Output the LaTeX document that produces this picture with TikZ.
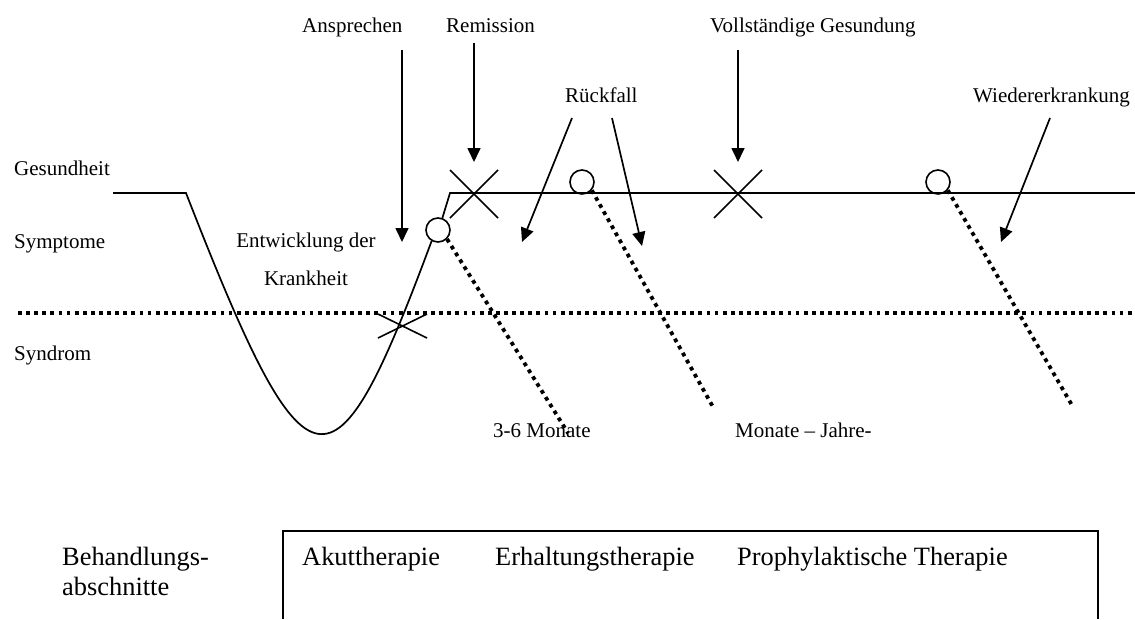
\documentclass[tikz,border=0pt]{standalone}
\usepackage{fontspec}
\setmainfont{Liberation Serif}
\usetikzlibrary{arrows.meta}
\begin{document}
\begin{tikzpicture}[x=1pt,y=-1pt,
  lbl/.style={anchor=base west,inner sep=0pt,font=\fontsize{21}{25}\selectfont},
  biglbl/.style={anchor=base west,inner sep=0pt,font=\fontsize{26.4}{30}\selectfont},
  solidline/.style={line width=1.7pt},
  dotline/.style={line width=3.8pt,dash pattern=on 3.8pt off 4.3pt},
  pointer/.style={line width=1.7pt,-{Triangle[length=14pt,width=13pt]}},
  ring/.style={circle,draw,line width=1.6pt,minimum size=24pt,inner sep=0pt,fill=white},
  crossmark/.style={line width=1.6pt}]
\useasboundingbox (0,0) rectangle (1135,619);

% level labels
\node[lbl] (gesund) at (14,175) {Gesundheit};
\node[lbl] (sympt) at (14,248) {Symptome};
\node[lbl] (syndr) at (14,360) {Syndrom};

% threshold between symptoms and syndrome
\coordinate (thrL) at (18,313);
\coordinate (thrR) at (1135,313);
\draw[dotline] (thrL) -- (thrR);

% course of the illness
\node[ring] (r1) at (438,230) {};
\node[ring] (r2) at (582,182) {};
\node[ring] (r3) at (938,182) {};
\coordinate (startL) at (113,193);
\coordinate (drop) at (186,193);
\coordinate (rise) at (450,193);
\coordinate (endR) at (1135,193);
\draw[solidline] (startL) -- (drop) .. controls (308,506) and (333,506) .. (r1.240);
\draw[solidline] (r1.70) -- (rise) -- (endR);

% dotted relapse lines
\coordinate (d1) at (568,433);
\coordinate (d2) at (713,407);
\coordinate (d3) at (1073,407);
\draw[dotline] (r1.-45) -- (d1);
\draw[dotline] (r2.-40) -- (d2);
\draw[dotline] (r3.-40) -- (d3);

% crosses
\draw[crossmark] (378,314) -- (427,338) (378,338) -- (427,314);
\draw[crossmark] (450,170) -- (498,218) (450,218) -- (498,170);
\draw[crossmark] (714,170) -- (762,218) (714,218) -- (762,170);

% event labels and their arrows
\node[lbl] (anspr) at (302,32) {Ansprechen};
\node[lbl] (remis) at (446,32) {Remission};
\node[lbl] (vollst) at (710,32) {Vollständige Gesundung};
\node[lbl] (rueck) at (565,102) {Rückfall};
\node[lbl] (wieder) at (973,102) {Wiedererkrankung};
\node[lbl,anchor=base] (entw1) at (306,247) {Entwicklung der};
\node[lbl,anchor=base] (entw2) at (306,285) {Krankheit};

\coordinate (a1s) at (402,50);   \coordinate (a1e) at (402,242);
\coordinate (a2s) at (474,43);   \coordinate (a2e) at (474,162);
\coordinate (a3s) at (738,50);   \coordinate (a3e) at (738,162);
\coordinate (a4s) at (572,118);  \coordinate (a4e) at (522,242);
\coordinate (a5s) at (612,118);  \coordinate (a5e) at (642,246);
\coordinate (a6s) at (1050,118); \coordinate (a6e) at (1001,242);
\draw[pointer] (a1s) -- (a1e);
\draw[pointer] (a2s) -- (a2e);
\draw[pointer] (a3s) -- (a3e);
\draw[pointer] (a4s) -- (a4e);
\draw[pointer] (a5s) -- (a5e);
\draw[pointer] (a6s) -- (a6e);

% durations
\node[lbl] (dur1) at (493,437) {3-6 Monate};
\node[lbl] (dur2) at (735,437) {Monate – Jahre-};

% treatment phases
\node[biglbl] (phase1) at (62,565) {Behandlungs-};
\node[biglbl] (phase2) at (62,595) {abschnitte};
\coordinate (bxBL) at (283,619);
\coordinate (bxTL) at (283,531);
\coordinate (bxTR) at (1098,531);
\coordinate (bxBR) at (1098,619);
\draw[solidline] (bxBL) -- (bxTL) -- (bxTR) -- (bxBR);
\node[biglbl] (akut) at (302,565) {Akuttherapie};
\node[biglbl] (erh) at (495,565) {Erhaltungstherapie};
\node[biglbl] (proph) at (737,565) {Prophylaktische Therapie};
\end{tikzpicture}
\end{document}
